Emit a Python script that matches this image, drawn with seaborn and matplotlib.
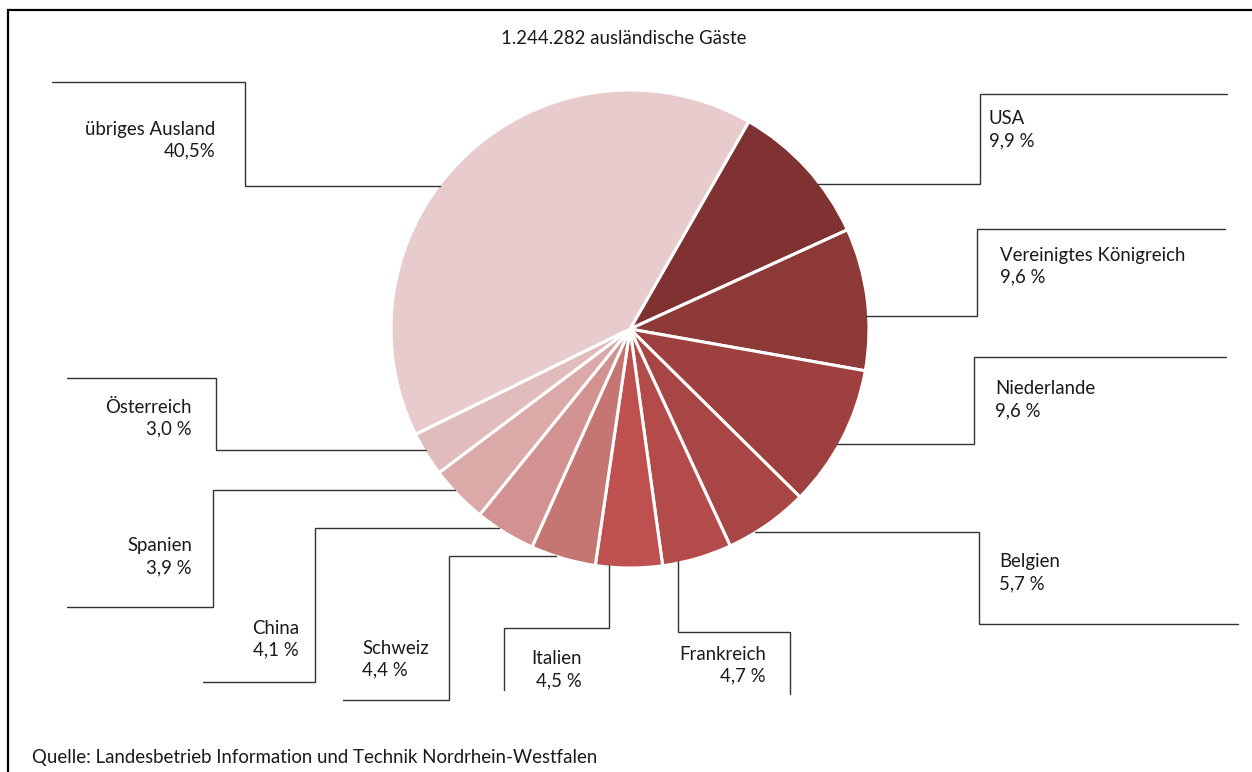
import numpy as np
import matplotlib.pyplot as plt
import seaborn as sns

# Data: share of foreign guests by country of origin
countries = ["USA", "Vereinigtes Königreich", "Niederlande", "Belgien", "Frankreich",
             "Italien", "Schweiz", "China", "Spanien", "Österreich", "übriges Ausland"]
shares = [9.9, 9.6, 9.6, 5.7, 4.7, 4.5, 4.4, 4.1, 3.9, 3.0, 40.5]
pct_labels = ["9,9 %", "9,6 %", "9,6 %", "5,7 %", "4,7 %",
              "4,5 %", "4,4 %", "4,1 %", "3,9 %", "3,0 %", "40,5%"]
colors = ["#803232", "#8c3937", "#9e403f", "#a84645", "#b34b4a",
          "#be504f", "#c57572", "#d19291", "#daa9a8", "#e1bcbc", "#e8cbcd"]
title = "1.244.282 ausländische Gäste"
source = "Quelle: Landesbetrieb Information und Technik Nordrhein-Westfalen"

sns.set_theme(style="white")
plt.rcParams["font.family"] = ["Lato", "DejaVu Sans"]

W, H = 1252, 772
fig = plt.figure(figsize=(W / 100, H / 100), dpi=100)
ax = fig.add_axes([0, 0, 1, 1])

cx, cy, r = 630, 329, 239


def Y(y):
    # picture rows count from the top
    return H - y


ax.pie(shares, colors=colors, startangle=60.2, counterclock=False,
       center=(cx, Y(cy)), radius=r,
       wedgeprops=dict(edgecolor="white", linewidth=2.2))

ax.set_xlim(0, W)
ax.set_ylim(0, H)
ax.set_aspect("equal")
ax.axis("off")


def edge_x(y, side):
    return cx + side * np.sqrt(r**2 - (y - cy) ** 2) * 0.99


def edge_y(x):
    return cy + np.sqrt(r**2 - (x - cx) ** 2) * 0.99


# leader line elbows and label placement (layout only)
layout = {
    "USA":                    dict(path=[(edge_x(184, 1), 184), (980, 184), (980, 94), (1227, 94)], tx=989, ty=119, ha="left"),
    "Vereinigtes Königreich": dict(path=[(edge_x(316, 1), 316), (977, 316), (977, 229), (1225, 229)], tx=1000, ty=255, ha="left"),
    "Niederlande":            dict(path=[(edge_x(444, 1), 444), (974, 444), (974, 357), (1226, 357)], tx=995, ty=389, ha="left"),
    "Belgien":                dict(path=[(edge_x(532, 1), 532), (979, 532), (979, 624), (1238, 624)], tx=999, ty=562, ha="left"),
    "Frankreich":             dict(path=[(678, edge_y(678)), (678, 632), (790, 632), (790, 694)], tx=766, ty=654, ha="right"),
    "Italien":                dict(path=[(609, edge_y(609)), (609, 628), (504, 628), (504, 690)], tx=582, ty=659, ha="right"),
    "Schweiz":                dict(path=[(edge_x(556, -1), 556), (449, 556), (449, 700), (343, 700)], tx=362, ty=648, ha="left"),
    "China":                  dict(path=[(edge_x(528, -1), 528), (315, 528), (315, 682), (203, 682)], tx=299, ty=628, ha="right"),
    "Spanien":                dict(path=[(edge_x(490, -1), 490), (213, 490), (213, 607), (67, 607)], tx=192, ty=546, ha="right"),
    "Österreich":             dict(path=[(edge_x(450, -1), 450), (216, 450), (216, 378), (67, 378)], tx=192, ty=407, ha="right"),
    "übriges Ausland":        dict(path=[(52, 82), (245, 82), (245, 186), (edge_x(186, -1), 186)], tx=215, ty=129, ha="right"),
}

txt = dict(fontsize=13.4, color="#1a1a1a", va="center")
for name, pct in zip(countries, pct_labels):
    lay = layout[name]
    xs = [p[0] for p in lay["path"]]
    ys = [Y(p[1]) for p in lay["path"]]
    ax.plot(xs, ys, color="#333333", lw=1.0, solid_joinstyle="miter")
    ax.text(lay["tx"], Y(lay["ty"]), name, ha=lay["ha"], **txt)
    ax.text(lay["tx"], Y(lay["ty"] + 22), pct, ha=lay["ha"], **txt)

ax.text(624, Y(38), title, ha="center", **txt)
ax.text(32, Y(757), source, ha="left", **txt)

# frame on top and left
ax.plot([8, 8, W], [0, Y(10), Y(10)], color="black", lw=1.6, solid_joinstyle="miter")

fig.savefig("out.png", dpi=100)
